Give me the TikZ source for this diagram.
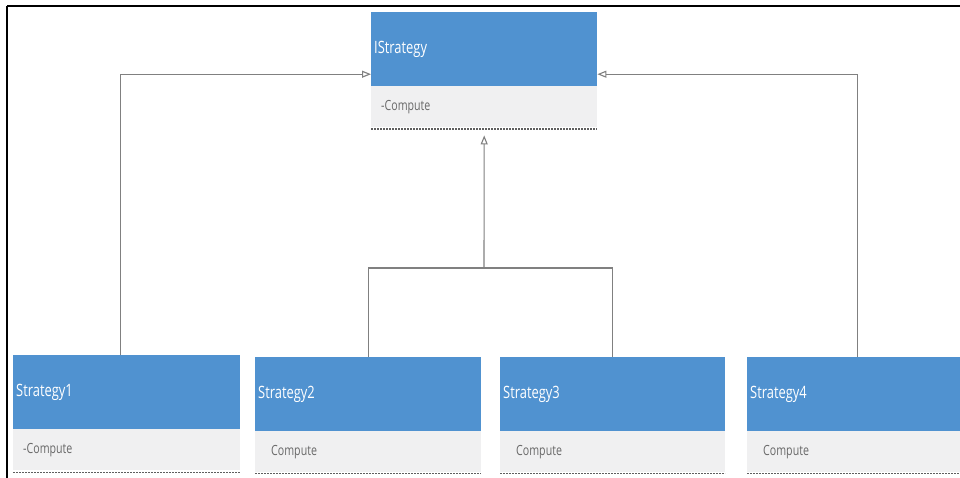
\documentclass[tikz,border=0pt]{standalone}
\usepackage{fontspec}
\newfontfamily\umlfont{Open Sans}[FakeStretch=0.76]
\usetikzlibrary{arrows.meta}
\definecolor{hdblue}{RGB}{80,146,208}
\definecolor{bodygray}{RGB}{240,240,241}
\definecolor{linegray}{RGB}{128,128,128}
\definecolor{txtgray}{RGB}{105,105,105}
\definecolor{dashgray}{RGB}{95,95,95}
\begin{document}
\begin{tikzpicture}[x=1pt,y=-1pt,
  classhead/.style={rectangle, fill=hdblue, draw=none, anchor=north west,
    minimum height=74pt, inner xsep=3pt, inner ysep=0pt,
    text=white, font=\umlfont\fontsize{17}{19}\selectfont, align=left},
  classbody/.style={rectangle, fill=bodygray, draw=none, anchor=north west,
    minimum height=41pt, inner xsep=0pt, inner ysep=0pt,
    text=txtgray, font=\umlfont\fontsize{14}{16}\selectfont, align=left},
  gen/.style={draw=linegray, line width=1.1pt,
    -{Triangle[open, length=9pt, width=7pt, fill=white]}},
  rel/.style={draw=linegray, line width=1.1pt},
  sep/.style={draw=dashgray, line width=1.6pt, dash pattern=on 2pt off 1pt}
]
\useasboundingbox (0,0) rectangle (960,478);
\fill[white] (0,0) rectangle (960,478);

% frame edges
\draw[black, line width=2.2pt] (7,6) -- (960,6);
\draw[black, line width=2.2pt] (7,6) -- (7,478);

% interface
\node[classhead, text width=220pt] (ish) at (371,12) {IStrategy};
\node[classbody, text width=226pt] (isb) at (371,86) {\hspace*{10pt}-Compute};
\draw[sep] (isb.south west) ++(0,1.5) -- ++(226,0);

% concrete strategies
\node[classhead, text width=221pt] (s1h) at (13,355) {Strategy1};
\node[classbody, text width=227pt] (s1b) at (13,429) {\hspace*{10pt}-Compute};
\draw[sep] (s1b.south west) ++(0,2) -- ++(227,0);

\node[classhead, text width=220pt] (s2h) at (255,357) {Strategy2};
\node[classbody, text width=226pt] (s2b) at (255,431) {\hspace*{16pt}Compute};
\draw[sep] (s2b.south west) ++(0,1) -- ++(226,0);

\node[classhead, text width=219pt] (s3h) at (500,357) {Strategy3};
\node[classbody, text width=225pt] (s3b) at (500,431) {\hspace*{16pt}Compute};
\draw[sep] (s3b.south west) ++(0,1) -- ++(225,0);

\node[classhead, text width=207pt] (s4h) at (747,357) {Strategy4};
\node[classbody, text width=213pt] (s4b) at (747,431) {\hspace*{16pt}Compute};
\draw[sep] (s4b.south west) ++(0,1) -- ++(213,0);

% generalisation connectors
\coordinate (jn) at (484,268);
\draw[gen] ([xshift=-6pt]s1h.north) |- ([yshift=-25pt]ish.west);
\draw[gen] ([xshift=4pt]s4h.north) |- ([yshift=-25pt]ish.east);
\draw[rel] (s2h.north) |- (jn) -| (s3h.north);
\draw[gen] (jn) -- ([yshift=-8pt]isb.south);
\end{tikzpicture}
\end{document}
